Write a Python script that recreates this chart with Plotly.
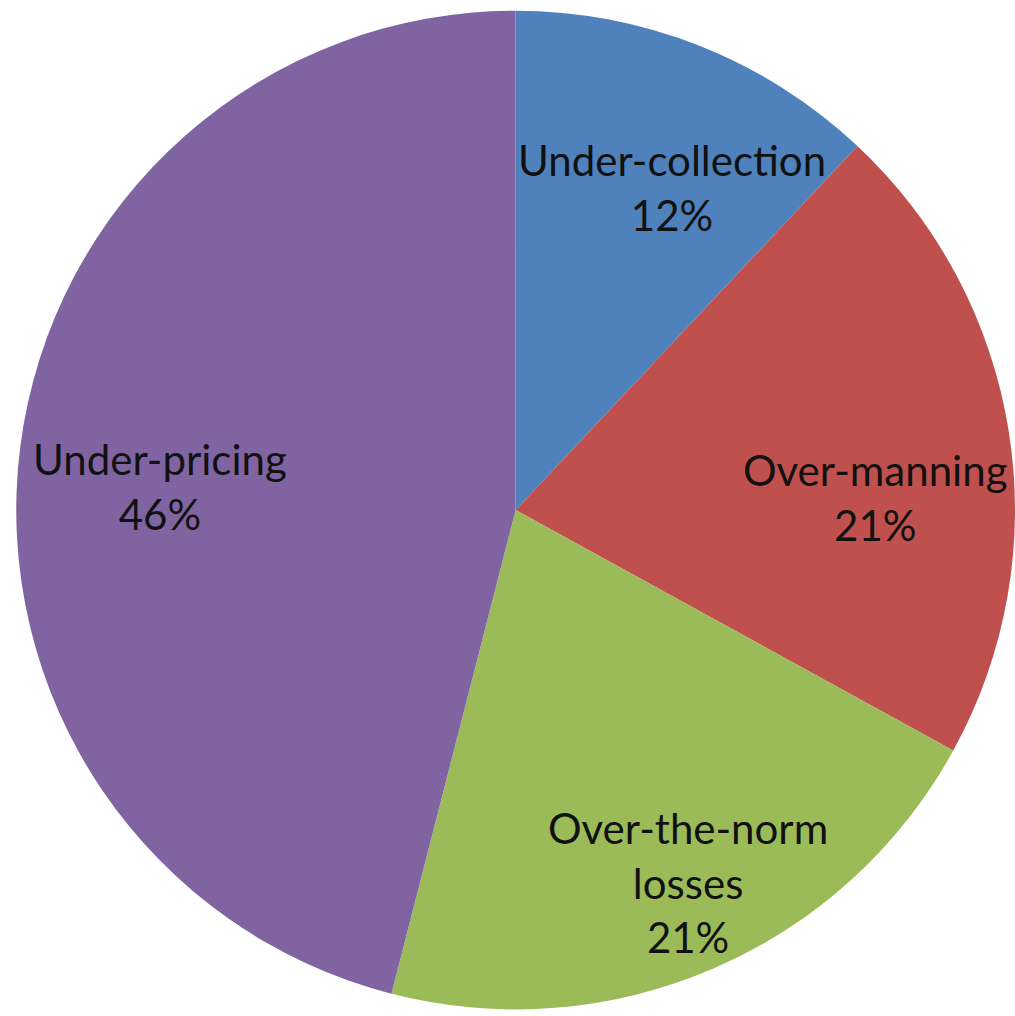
import plotly.graph_objects as go

# Shares of the total loss, by cause
categories = ["Under-collection", "Over-manning", "Over-the-norm<br>losses", "Under-pricing"]
shares = [12, 21, 21, 46]
colors = ["#4F81BD", "#C0504D", "#9BBB59", "#8064A2"]

W, H = 1015, 1016

# Label centres in pixels (x from left, y from top)
label_px = [(672, 187), (875, 497), (688, 882), (160, 486)]

fig = go.Figure(
    go.Pie(
        labels=categories,
        values=shares,
        sort=False,
        direction="clockwise",
        rotation=0,
        marker=dict(colors=colors, line=dict(width=0)),
        textinfo="none",
        hoverinfo="label+percent",
        domain=dict(x=[0.016, 1.0], y=[0.006, 0.990]),
        showlegend=False,
    )
)

for name, val, (px, py) in zip(categories, shares, label_px):
    fig.add_annotation(
        x=px / W,
        y=1 - py / H,
        xref="paper",
        yref="paper",
        text=f"{name}<br>{val}%",
        showarrow=False,
        xanchor="center",
        yanchor="middle",
        align="center",
        font=dict(family="Lato, 'Open Sans', sans-serif", size=42, color="#111111"),
    )

fig.update_layout(
    width=W,
    height=H,
    margin=dict(l=0, r=0, t=0, b=0),
    paper_bgcolor="white",
    plot_bgcolor="white",
)

fig.write_html("out.html")
